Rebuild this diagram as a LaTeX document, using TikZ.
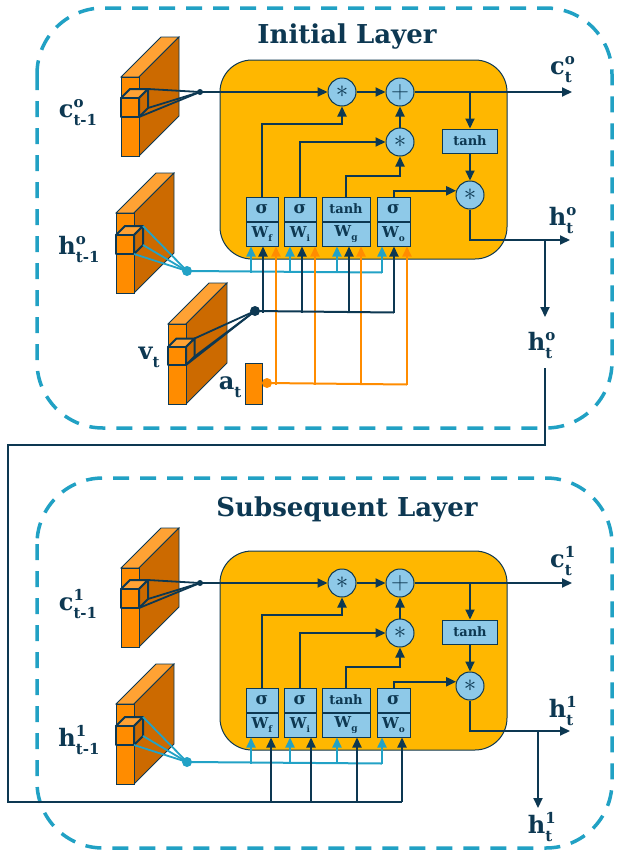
\documentclass[tikz,border=0pt]{standalone}
\usepackage{fontspec}
\setmainfont{DejaVu Serif}
\usetikzlibrary{arrows.meta,positioning,calc}
\definecolor{DashTeal}{RGB}{33,161,196}
\definecolor{DeepNavy}{RGB}{13,56,82}
\definecolor{CellGold}{RGB}{255,183,0}
\definecolor{GateBlue}{RGB}{142,201,232}
\definecolor{SlabFront}{RGB}{255,140,0}
\definecolor{SlabTop}{RGB}{255,162,52}
\definecolor{SlabSide}{RGB}{204,106,0}
\definecolor{FeedOrange}{RGB}{255,140,0}
\definecolor{FeedTeal}{RGB}{34,162,198}

\tikzset{
  layerbox/.style={draw=DashTeal,line width=3.5pt,dash pattern=on 16pt off 11pt,rounded corners=66pt},
  cellbox/.style={draw=DeepNavy,line width=1pt,fill=CellGold,rounded corners=32pt},
  opnode/.style={circle,draw=DeepNavy,line width=1pt,fill=GateBlue,minimum size=28pt,inner sep=0pt,text=DeepNavy,font=\fontsize{24}{24}\selectfont},
  gatebox/.style={draw=DeepNavy,line width=1pt,fill=GateBlue,minimum height=24pt,inner sep=0pt,text=DeepNavy,font=\bfseries\fontsize{15}{15}\selectfont},
  wire/.style={draw=DeepNavy,line width=2pt},
  flow/.style={wire,->},
  tealwire/.style={draw=FeedTeal,line width=2pt},
  tealflow/.style={tealwire,->},
  orangewire/.style={draw=FeedOrange,line width=2pt},
  orangeflow/.style={orangewire,->},
  cone/.style={line width=1.8pt},
  lbl/.style={text=DeepNavy,inner sep=0pt,font=\bfseries\fontsize{24}{24}\selectfont},
  titletext/.style={text=DeepNavy,font=\bfseries\fontsize{26}{26}\selectfont}
}

% label with an upper and a lower index
\newcommand\statelbl[3]{#1\rlap{\raisebox{10pt}{\fontsize{15}{15}\selectfont #2}}\raisebox{-8pt}{\fontsize{15}{15}\selectfont #3}}
\newcommand\sublbl[2]{#1\raisebox{-8pt}{\fontsize{15}{15}\selectfont #2}}
\newcommand\wsub[1]{W\raisebox{-4pt}{\fontsize{9}{9}\selectfont #1}}

% feature slab: x, y, width, height, depth
\newcommand\featslab[5]{%
  \filldraw[fill=SlabTop,draw=DeepNavy,line width=0.8pt] (#1,#2) -- ++(#5,-#5) -- ++(#3,0) -- ++(-#5,#5) -- cycle;
  \filldraw[fill=SlabSide,draw=DeepNavy,line width=0.8pt] (#1+#3,#2) -- ++(#5,-#5) -- ++(0,#4) -- ++(-#5,#5) -- cycle;
  \filldraw[fill=SlabFront,draw=DeepNavy,line width=0.8pt] (#1,#2) rectangle ++(#3,#4);
}
% small cube on a slab: name, x, y, width, height, depth
\newcommand\featcube[6]{%
  \filldraw[fill=SlabTop,draw=DeepNavy,line width=2pt,line join=round] (#2,#3) -- ++(#6,-#6) -- ++(#4,0) -- ++(-#6,#6) -- cycle;
  \filldraw[fill=SlabSide,draw=DeepNavy,line width=2pt,line join=round] (#2+#4,#3) -- ++(#6,-#6) -- ++(0,#5) -- ++(-#6,#6) -- cycle;
  \filldraw[fill=SlabFront,draw=DeepNavy,line width=2pt,line join=round] (#2,#3) rectangle ++(#4,#5);
  \coordinate (#1a) at (#2+#4+#6,#3-#6);
  \coordinate (#1b) at (#2+#4+#6,#3+#5-#6);
  \coordinate (#1c) at (#2+#4,#3+#5);
}

% one LSTM cell: prefix, layer index, x of the h split, y of the lower h label
\newcommand\lstmcore[4]{%
  \draw[cellbox] (220,60) rectangle (507,259);
  \node[opnode] (#1m1) at (342,92) {$\ast$};
  \node[opnode] (#1add) at (400,92) {$+$};
  \node[opnode] (#1m2) at (400,142) {$\ast$};
  \node[gatebox,minimum width=55pt,font=\bfseries\fontsize{13}{13}\selectfont] (#1th) at (470,141) {tanh};
  \node[opnode] (#1m3) at (470,195) {$\ast$};
  % gates
  \node[gatebox,minimum width=32pt,font=\bfseries\fontsize{17}{17}\selectfont] (#1sf) at (262,209) {σ};
  \node[gatebox,minimum width=32pt,anchor=north] (#1wf) at (#1sf.south) {\wsub{f}};
  \node[gatebox,minimum width=32pt,font=\bfseries\fontsize{17}{17}\selectfont] (#1si) at (300,209) {σ};
  \node[gatebox,minimum width=32pt,anchor=north] (#1wi) at (#1si.south) {\wsub{i}};
  \node[gatebox,minimum width=48pt,font=\bfseries\fontsize{13}{13}\selectfont] (#1sg) at (346,209) {tanh};
  \node[gatebox,minimum width=48pt,anchor=north] (#1wg) at (#1sg.south) {\wsub{g}};
  \node[gatebox,minimum width=33pt,font=\bfseries\fontsize{17}{17}\selectfont] (#1so) at (393.5,209) {σ};
  \node[gatebox,minimum width=33pt,anchor=north] (#1wo) at (#1so.south) {\wsub{o}};
  % inside the cell
  \draw[flow] (#1sf.north) -- ++(0,-73) -| (#1m1.south);
  \draw[flow] (#1si.north) |- (#1m2.west);
  \draw[flow] (#1sg.north) -- ++(0,-21) -| (#1m2.south);
  \draw[flow] (#1so.north) |- (#1m3.163);
  \draw[flow] (#1m1) -- (#1add);
  \draw[flow] (#1m2) -- (#1add);
  \draw[flow] (#1th) -- (#1m3);
  \coordinate (#1ct) at (572,92);
  \draw[flow] (#1add) -- (#1ct);
  \draw[flow] (#1th.north |- #1add.east) -- (#1th.north);
  \coordinate (#1ht) at (570,240);
  \draw[flow] (#1m3.south) |- (#1ht);
  \coordinate (#1hs) at (#3,240);
  \coordinate (#1hd) at (#3,317);
  \draw[flow] (#1hs) -- (#1hd);
  % cell state input
  \featslab{121}{77}{18}{79}{40}
  \featcube{#1cq}{121}{98}{18}{19}{9}
  \coordinate (#1cdot) at (200,92);
  \foreach \k in {a,b,c} \draw[wire,cone] (#1cq\k) -- (#1cdot);
  \fill[DeepNavy] (#1cdot) circle (3pt);
  \draw[flow] (#1cdot) -- (#1m1);
  % hidden state input
  \featslab{116}{213}{18}{80}{40}
  \featcube{#1hq}{116}{235}{18}{19}{9}
  \coordinate (#1hdot) at (187,271);
  \foreach \k in {a,b,c} \draw[tealwire,cone] (#1hq\k) -- (#1hdot);
  \draw[tealwire] (#1hdot) -- ($(#1wo.south)+(-11.5,26)$);
  \foreach \g/\dx in {#1wf/-11,#1wi/-10,#1wg/-9,#1wo/-11.5}
    \draw[tealflow] ($(\g.south)+(\dx,26)$) -- ($(\g.south)+(\dx,0)$);
  \fill[FeedTeal] (#1hdot) circle (5pt);
  % labels
  \node[lbl] (#1lct) at (561,70) {\statelbl{c}{#2}{t}};
  \node[lbl] (#1lht) at (561,220) {\statelbl{h}{#2}{t}};
  \node[lbl] (#1lhd) at (540,#4) {\statelbl{h}{#2}{t}};
  \node[lbl] (#1lcp) at (78,113) {\statelbl{c}{#2}{t-1}};
  \node[lbl] (#1lhp) at (79,249) {\statelbl{h}{#2}{t-1}};
}

\begin{document}
\begin{tikzpicture}[x=1pt,y=-1pt,>={Triangle[length=10pt,width=9pt]}]
  \useasboundingbox (0,0) rectangle (618,852);
  \fill[white] (0,0) rectangle (618,852);

  % ---- initial layer ----
  \draw[layerbox] (37,8) rectangle (612,428);
  \node[titletext] (title0) at (347,37) {Initial Layer};
  \lstmcore{}{o}{545}{345}

  % visual and action inputs
  \featslab{168}{324}{18}{80}{41}
  \featcube{vq}{168}{347}{18}{18}{8.5}
  \coordinate (vdot) at (255,311);
  \foreach \k in {a,b,c} \draw[wire,cone] (vq\k) -- (vdot);
  \node[draw=DeepNavy,fill=SlabFront,line width=0.8pt,minimum width=17pt,minimum height=41pt,inner sep=0pt] (abox) at (253.5,383.5) {};
  \coordinate (adot) at (267,383);
  \draw[orangewire] (adot) -- ($(wo.south)+(13.5,138)$);
  \foreach \g/\dx in {wf/14,wi/15,wg/15,wo/13.5}
    \draw[orangeflow] ($(\g.south)+(\dx,138)$) -- ($(\g.south)+(\dx,0)$);
  \fill[FeedOrange] (adot) circle (5pt);
  \draw[wire] (vdot) -- ($(wo.south)+(0.5,66)$);
  \foreach \g/\dx in {wf/1,wi/2,wg/3,wo/0.5}
    \draw[flow] ($(\g.south)+(\dx,66)$) -- ($(\g.south)+(\dx,0)$);
  \fill[DeepNavy] (vdot) circle (5pt);
  \node[lbl] (lv) at (149,357) {\sublbl{v}{t}};
  \node[lbl] (la) at (230,387) {\sublbl{a}{t}};

  % ---- subsequent layer ----
  \draw[layerbox] (37,478) rectangle (612,848);
  \node[titletext] (title1) at (347,510) {Subsequent Layer};
  \begin{scope}[shift={(0,491)}]
    \lstmcore{B}{1}{538}{336}
  \end{scope}

  % hidden state handed to the next layer
  \coordinate (hin) at (545,368);
  \coordinate (loopA) at (8,445);
  \draw[wire] (hin) |- (loopA) |- ($(Bwo.south)+(8.5,64)$);
  \foreach \g/\dx in {Bwf/9,Bwi/11,Bwg/11,Bwo/8.5}
    \draw[flow] ($(\g.south)+(\dx,64)$) -- ($(\g.south)+(\dx,0)$);
\end{tikzpicture}
\end{document}
